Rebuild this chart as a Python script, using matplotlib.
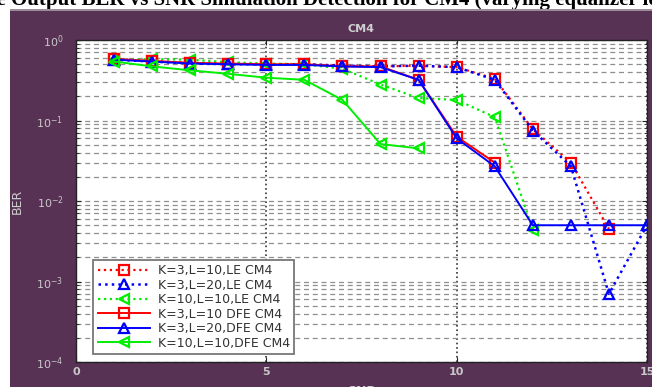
import numpy as np
import matplotlib
matplotlib.use("Agg")
import matplotlib.pyplot as plt
from matplotlib.patches import Rectangle
from matplotlib.ticker import LogLocator, NullFormatter

# SNR points and BER values for each equaliser setting
snr_le_k3_l10 = [1, 2, 3, 4, 5, 6, 7, 8, 9, 10, 11, 12, 13, 14]
ber_le_k3_l10 = [0.58, 0.55, 0.52, 0.51, 0.50, 0.50, 0.48, 0.47, 0.48, 0.46, 0.33, 0.078, 0.030, 0.0045]

snr_le_k3_l20 = [1, 2, 3, 4, 5, 6, 7, 8, 9, 10, 11, 12, 13, 14, 15]
ber_le_k3_l20 = [0.57, 0.54, 0.51, 0.50, 0.50, 0.50, 0.48, 0.47, 0.48, 0.46, 0.32, 0.075, 0.027, 0.0007, 0.005]

snr_le_k10_l10 = [1, 2, 3, 4, 5, 6, 7, 8, 9, 10, 11, 12]
ber_le_k10_l10 = [0.56, 0.58, 0.57, 0.53, 0.51, 0.50, 0.44, 0.28, 0.19, 0.18, 0.11, 0.0044]

snr_dfe_k3_l10 = [1, 2, 3, 4, 5, 6, 7, 8, 9, 10, 11]
ber_dfe_k3_l10 = [0.58, 0.55, 0.52, 0.51, 0.50, 0.50, 0.47, 0.47, 0.32, 0.063, 0.030]

snr_dfe_k3_l20 = [1, 2, 3, 4, 5, 6, 7, 8, 9, 10, 11, 12, 13, 14, 15]
ber_dfe_k3_l20 = [0.57, 0.54, 0.51, 0.50, 0.49, 0.49, 0.47, 0.46, 0.32, 0.060, 0.027, 0.005, 0.005, 0.005, 0.005]

snr_dfe_k10_l10 = [1, 2, 3, 4, 5, 6, 7, 8, 9]
ber_dfe_k10_l10 = [0.54, 0.47, 0.42, 0.38, 0.34, 0.32, 0.18, 0.051, 0.045]

labels = ["K=3,L=10,LE CM4", "K=3,L=20,LE CM4", "K=10,L=10,LE CM4",
          "K=3,L=10 DFE CM4", "K=3,L=20,DFE CM4", "K=10,L=10,DFE CM4"]

W, H = 652, 387
fig = plt.figure(figsize=(W / 100, H / 100), dpi=100)
fig.patch.set_facecolor("white")

# caption line of the page, mostly hidden behind the figure panel
fig.text(0.5, 1 - 5 / H, "Figure Output BER vs SNR Simulation Detection for CM4 (varying equalizer length)",
         ha="center", va="baseline", fontsize=15, weight="bold",
         family="Liberation Serif", color="black", zorder=-3)
fig.add_artist(Rectangle((10 / W, 0), 1, (H - 11) / H, transform=fig.transFigure,
                         facecolor="#583254", edgecolor="none", zorder=-1))
fig.add_artist(Rectangle((10 / W, (H - 11) / H), 1, 2.5 / H, transform=fig.transFigure,
                         facecolor="#9a8c98", edgecolor="none", zorder=-1))

ax = fig.add_axes([76 / W, 25 / H, 571 / W, 322 / H])
ax.set_facecolor("white")

ax.semilogy(snr_le_k3_l10, ber_le_k3_l10, ":", color="#ff0000", marker="s", ms=7, mfc="none", mew=1.6, lw=1.6)
ax.semilogy(snr_le_k3_l20, ber_le_k3_l20, ":", color="#0000ff", marker="^", ms=7, mfc="none", mew=1.6, lw=1.8)
ax.semilogy(snr_le_k10_l10, ber_le_k10_l10, ":", color="#00ee00", marker="<", ms=7, mfc="none", mew=1.6, lw=1.6)
ax.semilogy(snr_dfe_k3_l10, ber_dfe_k3_l10, "-", color="#ff0000", marker="s", ms=7, mfc="none", mew=1.6, lw=1.4)
ax.semilogy(snr_dfe_k3_l20, ber_dfe_k3_l20, "-", color="#0000ff", marker="^", ms=7, mfc="none", mew=1.6, lw=1.4)
ax.semilogy(snr_dfe_k10_l10, ber_dfe_k10_l10, "-", color="#00ee00", marker="<", ms=7, mfc="none", mew=1.6, lw=1.4)

ax.set_xlim(0, 15)
ax.set_ylim(1e-4, 1)
ax.set_xticks([0, 5, 10, 15])
ax.yaxis.set_major_locator(LogLocator(base=10, numticks=10))
ax.yaxis.set_minor_locator(LogLocator(base=10, subs=np.arange(2, 10), numticks=20))
ax.yaxis.set_minor_formatter(NullFormatter())

ax.grid(True, which="both", axis="y", ls=(0, (4, 3)), color="#8f8f8f", lw=0.9)
ax.grid(True, which="major", axis="x", ls=":", color="#333333", lw=1.2)
ax.set_axisbelow(True)

ax.tick_params(which="both", direction="in", top=True, right=True,
               colors="#222222", labelcolor="#c8c8c8", labelsize=8)
ax.tick_params(axis="y", which="major", pad=9)
for lbl in ax.get_xticklabels():
    lbl.set_fontweight("bold")
for sp in ax.spines.values():
    sp.set_color("#222222")
    sp.set_linewidth(1.0)

ax.set_title("CM4", color="#cfcfcf", fontsize=8, weight="bold", pad=6)
ax.set_xlabel("SNR", color="#cfcfcf", fontsize=9, weight="bold", labelpad=6)
ax.set_ylabel("BER", color="#cfcfcf", fontsize=9, labelpad=9)

leg = ax.legend(labels, loc="lower left", bbox_to_anchor=(0.03, 0.025), borderaxespad=0,
                fontsize=9, handlelength=4.2, handletextpad=0.6, labelspacing=0.12,
                borderpad=0.35, fancybox=False, framealpha=1, edgecolor="#777777")
leg.get_frame().set_linewidth(1.3)
for t in leg.get_texts():
    t.set_color("#333333")

fig.savefig("out.png", dpi=100, facecolor=fig.get_facecolor())
